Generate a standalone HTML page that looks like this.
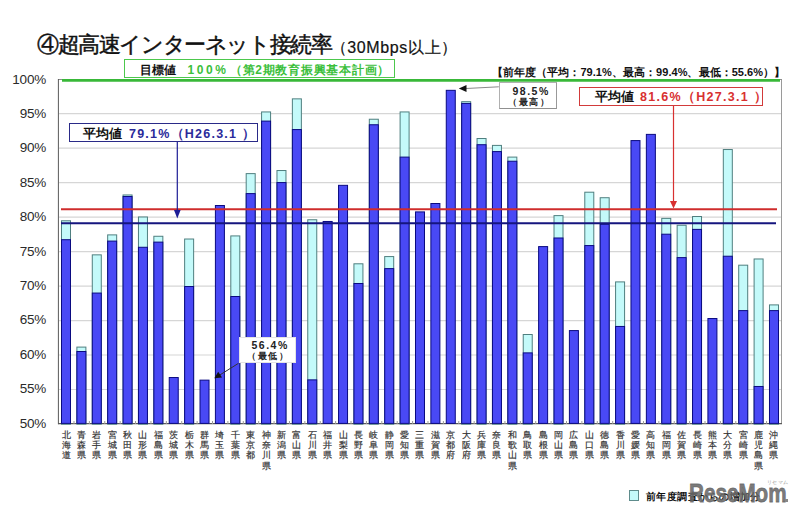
<!DOCTYPE html>
<html><head><meta charset="utf-8">
<style>
html,body{margin:0;padding:0;background:#fff;}
body{width:800px;height:516px;position:relative;overflow:hidden;font-family:"Liberation Sans",sans-serif;}
.t{position:absolute;white-space:nowrap;line-height:1;}
.yl{position:absolute;right:753.8px;font-size:13.5px;letter-spacing:-0.15px;color:#2a2a2a;line-height:16px;text-align:right;}
.lab{position:absolute;top:430px;width:12px;font-size:9px;line-height:10.2px;color:#2a2a2a;text-align:center;-webkit-text-stroke:0.2px #444;}
.box{position:absolute;box-sizing:border-box;background:#fff;}
svg{position:absolute;left:0;top:0;}
</style></head><body>
<svg width="800" height="516" viewBox="0 0 800 516">
<line x1="59" y1="389.50" x2="781" y2="389.50" stroke="#d6d6d6" stroke-width="1.2"/><line x1="59" y1="355.02" x2="781" y2="355.02" stroke="#d6d6d6" stroke-width="1.2"/><line x1="59" y1="320.55" x2="781" y2="320.55" stroke="#d6d6d6" stroke-width="1.2"/><line x1="59" y1="286.07" x2="781" y2="286.07" stroke="#d6d6d6" stroke-width="1.2"/><line x1="59" y1="251.60" x2="781" y2="251.60" stroke="#d6d6d6" stroke-width="1.2"/><line x1="59" y1="217.12" x2="781" y2="217.12" stroke="#d6d6d6" stroke-width="1.2"/><line x1="59" y1="182.65" x2="781" y2="182.65" stroke="#d6d6d6" stroke-width="1.2"/><line x1="59" y1="148.17" x2="781" y2="148.17" stroke="#d6d6d6" stroke-width="1.2"/><line x1="59" y1="113.69" x2="781" y2="113.69" stroke="#d6d6d6" stroke-width="1.2"/><line x1="58" y1="79.5" x2="782" y2="79.5" stroke="#8c8c8c" stroke-width="1"/><line x1="58.4" y1="79" x2="58.4" y2="424.2" stroke="#5a5a5a" stroke-width="1"/><line x1="781.5" y1="80" x2="781.5" y2="424" stroke="#9a9a9a" stroke-width="1"/><line x1="58" y1="423.6" x2="782" y2="423.6" stroke="#5a5a5a" stroke-width="1.2"/><rect x="61.50" y="220.78" width="9.00" height="203.42" fill="#c4fafa" stroke="#4f7f7f" stroke-width="1"/><rect x="61.50" y="239.71" width="9.00" height="183.69" fill="#4949f5" stroke="#0a0a80" stroke-width="1"/><rect x="76.89" y="347.10" width="9.00" height="77.10" fill="#c4fafa" stroke="#4f7f7f" stroke-width="1"/><rect x="76.89" y="351.50" width="9.00" height="71.90" fill="#4949f5" stroke="#0a0a80" stroke-width="1"/><rect x="92.28" y="254.85" width="9.00" height="169.35" fill="#c4fafa" stroke="#4f7f7f" stroke-width="1"/><rect x="92.28" y="293.06" width="9.00" height="130.34" fill="#4949f5" stroke="#0a0a80" stroke-width="1"/><rect x="107.67" y="234.89" width="9.00" height="189.31" fill="#c4fafa" stroke="#4f7f7f" stroke-width="1"/><rect x="107.67" y="241.09" width="9.00" height="182.31" fill="#4949f5" stroke="#0a0a80" stroke-width="1"/><rect x="123.06" y="194.96" width="9.00" height="229.24" fill="#c4fafa" stroke="#4f7f7f" stroke-width="1"/><rect x="123.06" y="196.48" width="9.00" height="226.92" fill="#4949f5" stroke="#0a0a80" stroke-width="1"/><rect x="138.45" y="216.99" width="9.00" height="207.21" fill="#c4fafa" stroke="#4f7f7f" stroke-width="1"/><rect x="138.45" y="247.28" width="9.00" height="176.12" fill="#4949f5" stroke="#0a0a80" stroke-width="1"/><rect x="153.85" y="236.27" width="9.00" height="187.93" fill="#c4fafa" stroke="#4f7f7f" stroke-width="1"/><rect x="153.85" y="242.12" width="9.00" height="181.28" fill="#4949f5" stroke="#0a0a80" stroke-width="1"/><rect x="169.24" y="377.53" width="9.00" height="45.87" fill="#4949f5" stroke="#0a0a80" stroke-width="1"/><rect x="184.63" y="239.02" width="9.00" height="185.18" fill="#c4fafa" stroke="#4f7f7f" stroke-width="1"/><rect x="184.63" y="286.52" width="9.00" height="136.88" fill="#4949f5" stroke="#0a0a80" stroke-width="1"/><rect x="200.02" y="380.14" width="9.00" height="43.26" fill="#4949f5" stroke="#0a0a80" stroke-width="1"/><rect x="215.41" y="205.50" width="9.00" height="217.90" fill="#4949f5" stroke="#0a0a80" stroke-width="1"/><rect x="230.80" y="235.92" width="9.00" height="188.28" fill="#c4fafa" stroke="#4f7f7f" stroke-width="1"/><rect x="230.80" y="296.50" width="9.00" height="126.90" fill="#4949f5" stroke="#0a0a80" stroke-width="1"/><rect x="246.19" y="173.62" width="9.00" height="250.58" fill="#c4fafa" stroke="#4f7f7f" stroke-width="1"/><rect x="246.19" y="193.59" width="9.00" height="229.81" fill="#4949f5" stroke="#0a0a80" stroke-width="1"/><rect x="261.58" y="111.94" width="9.00" height="312.26" fill="#c4fafa" stroke="#4f7f7f" stroke-width="1"/><rect x="261.58" y="121.10" width="9.00" height="302.30" fill="#4949f5" stroke="#0a0a80" stroke-width="1"/><rect x="276.97" y="170.52" width="9.00" height="253.68" fill="#c4fafa" stroke="#4f7f7f" stroke-width="1"/><rect x="276.97" y="182.57" width="9.00" height="240.83" fill="#4949f5" stroke="#0a0a80" stroke-width="1"/><rect x="292.37" y="98.86" width="9.00" height="325.34" fill="#c4fafa" stroke="#4f7f7f" stroke-width="1"/><rect x="292.37" y="129.56" width="9.00" height="293.84" fill="#4949f5" stroke="#0a0a80" stroke-width="1"/><rect x="307.76" y="219.75" width="9.00" height="204.45" fill="#c4fafa" stroke="#4f7f7f" stroke-width="1"/><rect x="307.76" y="379.87" width="9.00" height="43.53" fill="#4949f5" stroke="#0a0a80" stroke-width="1"/><rect x="323.15" y="221.47" width="9.00" height="201.93" fill="#4949f5" stroke="#0a0a80" stroke-width="1"/><rect x="338.54" y="185.33" width="9.00" height="238.07" fill="#4949f5" stroke="#0a0a80" stroke-width="1"/><rect x="353.93" y="263.80" width="9.00" height="160.40" fill="#c4fafa" stroke="#4f7f7f" stroke-width="1"/><rect x="353.93" y="283.49" width="9.00" height="139.91" fill="#4949f5" stroke="#0a0a80" stroke-width="1"/><rect x="369.32" y="119.24" width="9.00" height="304.96" fill="#c4fafa" stroke="#4f7f7f" stroke-width="1"/><rect x="369.32" y="124.75" width="9.00" height="298.65" fill="#4949f5" stroke="#0a0a80" stroke-width="1"/><rect x="384.71" y="256.57" width="9.00" height="167.63" fill="#c4fafa" stroke="#4f7f7f" stroke-width="1"/><rect x="384.71" y="268.62" width="9.00" height="154.78" fill="#4949f5" stroke="#0a0a80" stroke-width="1"/><rect x="400.10" y="111.94" width="9.00" height="312.26" fill="#c4fafa" stroke="#4f7f7f" stroke-width="1"/><rect x="400.10" y="157.10" width="9.00" height="266.30" fill="#4949f5" stroke="#0a0a80" stroke-width="1"/><rect x="415.49" y="211.90" width="9.00" height="211.50" fill="#4949f5" stroke="#0a0a80" stroke-width="1"/><rect x="430.88" y="203.50" width="9.00" height="219.90" fill="#4949f5" stroke="#0a0a80" stroke-width="1"/><rect x="446.27" y="90.33" width="9.00" height="333.07" fill="#4949f5" stroke="#0a0a80" stroke-width="1"/><rect x="461.67" y="101.68" width="9.00" height="322.52" fill="#c4fafa" stroke="#4f7f7f" stroke-width="1"/><rect x="461.67" y="103.41" width="9.00" height="319.99" fill="#4949f5" stroke="#0a0a80" stroke-width="1"/><rect x="477.06" y="138.51" width="9.00" height="285.69" fill="#c4fafa" stroke="#4f7f7f" stroke-width="1"/><rect x="477.06" y="144.71" width="9.00" height="278.69" fill="#4949f5" stroke="#0a0a80" stroke-width="1"/><rect x="492.45" y="145.40" width="9.00" height="278.80" fill="#c4fafa" stroke="#4f7f7f" stroke-width="1"/><rect x="492.45" y="151.59" width="9.00" height="271.81" fill="#4949f5" stroke="#0a0a80" stroke-width="1"/><rect x="507.84" y="157.10" width="9.00" height="267.10" fill="#c4fafa" stroke="#4f7f7f" stroke-width="1"/><rect x="507.84" y="161.23" width="9.00" height="262.17" fill="#4949f5" stroke="#0a0a80" stroke-width="1"/><rect x="523.23" y="334.50" width="9.00" height="89.70" fill="#c4fafa" stroke="#4f7f7f" stroke-width="1"/><rect x="523.23" y="352.88" width="9.00" height="70.52" fill="#4949f5" stroke="#0a0a80" stroke-width="1"/><rect x="538.62" y="246.59" width="9.00" height="176.81" fill="#4949f5" stroke="#0a0a80" stroke-width="1"/><rect x="554.01" y="215.61" width="9.00" height="208.59" fill="#c4fafa" stroke="#4f7f7f" stroke-width="1"/><rect x="554.01" y="237.99" width="9.00" height="185.41" fill="#4949f5" stroke="#0a0a80" stroke-width="1"/><rect x="569.40" y="330.58" width="9.00" height="92.82" fill="#4949f5" stroke="#0a0a80" stroke-width="1"/><rect x="584.79" y="192.21" width="9.00" height="231.99" fill="#c4fafa" stroke="#4f7f7f" stroke-width="1"/><rect x="584.79" y="245.56" width="9.00" height="177.84" fill="#4949f5" stroke="#0a0a80" stroke-width="1"/><rect x="600.18" y="197.72" width="9.00" height="226.48" fill="#c4fafa" stroke="#4f7f7f" stroke-width="1"/><rect x="600.18" y="224.29" width="9.00" height="199.11" fill="#4949f5" stroke="#0a0a80" stroke-width="1"/><rect x="615.58" y="281.91" width="9.00" height="142.29" fill="#c4fafa" stroke="#4f7f7f" stroke-width="1"/><rect x="615.58" y="326.45" width="9.00" height="96.95" fill="#4949f5" stroke="#0a0a80" stroke-width="1"/><rect x="630.97" y="140.58" width="9.00" height="282.82" fill="#4949f5" stroke="#0a0a80" stroke-width="1"/><rect x="646.36" y="134.38" width="9.00" height="289.02" fill="#4949f5" stroke="#0a0a80" stroke-width="1"/><rect x="661.75" y="218.37" width="9.00" height="205.83" fill="#c4fafa" stroke="#4f7f7f" stroke-width="1"/><rect x="661.75" y="234.20" width="9.00" height="189.20" fill="#4949f5" stroke="#0a0a80" stroke-width="1"/><rect x="677.14" y="225.25" width="9.00" height="198.95" fill="#c4fafa" stroke="#4f7f7f" stroke-width="1"/><rect x="677.14" y="257.61" width="9.00" height="165.79" fill="#4949f5" stroke="#0a0a80" stroke-width="1"/><rect x="692.53" y="216.51" width="9.00" height="207.69" fill="#c4fafa" stroke="#4f7f7f" stroke-width="1"/><rect x="692.53" y="229.38" width="9.00" height="194.02" fill="#4949f5" stroke="#0a0a80" stroke-width="1"/><rect x="707.92" y="318.53" width="9.00" height="104.87" fill="#4949f5" stroke="#0a0a80" stroke-width="1"/><rect x="723.31" y="149.53" width="9.00" height="274.67" fill="#c4fafa" stroke="#4f7f7f" stroke-width="1"/><rect x="723.31" y="256.23" width="9.00" height="167.17" fill="#4949f5" stroke="#0a0a80" stroke-width="1"/><rect x="738.70" y="265.18" width="9.00" height="159.02" fill="#c4fafa" stroke="#4f7f7f" stroke-width="1"/><rect x="738.70" y="310.61" width="9.00" height="112.79" fill="#4949f5" stroke="#0a0a80" stroke-width="1"/><rect x="754.10" y="258.98" width="9.00" height="165.22" fill="#c4fafa" stroke="#4f7f7f" stroke-width="1"/><rect x="754.10" y="386.48" width="9.00" height="36.92" fill="#4949f5" stroke="#0a0a80" stroke-width="1"/><rect x="769.49" y="304.90" width="9.00" height="119.30" fill="#c4fafa" stroke="#4f7f7f" stroke-width="1"/><rect x="769.49" y="310.61" width="9.00" height="112.79" fill="#4949f5" stroke="#0a0a80" stroke-width="1"/><line x1="73.99" y1="421" x2="73.99" y2="424" stroke="#9a9a9a" stroke-width="1"/><line x1="89.38" y1="421" x2="89.38" y2="424" stroke="#9a9a9a" stroke-width="1"/><line x1="104.77" y1="421" x2="104.77" y2="424" stroke="#9a9a9a" stroke-width="1"/><line x1="120.16" y1="421" x2="120.16" y2="424" stroke="#9a9a9a" stroke-width="1"/><line x1="135.56" y1="421" x2="135.56" y2="424" stroke="#9a9a9a" stroke-width="1"/><line x1="150.95" y1="421" x2="150.95" y2="424" stroke="#9a9a9a" stroke-width="1"/><line x1="166.34" y1="421" x2="166.34" y2="424" stroke="#9a9a9a" stroke-width="1"/><line x1="181.73" y1="421" x2="181.73" y2="424" stroke="#9a9a9a" stroke-width="1"/><line x1="197.12" y1="421" x2="197.12" y2="424" stroke="#9a9a9a" stroke-width="1"/><line x1="212.51" y1="421" x2="212.51" y2="424" stroke="#9a9a9a" stroke-width="1"/><line x1="227.90" y1="421" x2="227.90" y2="424" stroke="#9a9a9a" stroke-width="1"/><line x1="243.29" y1="421" x2="243.29" y2="424" stroke="#9a9a9a" stroke-width="1"/><line x1="258.68" y1="421" x2="258.68" y2="424" stroke="#9a9a9a" stroke-width="1"/><line x1="274.07" y1="421" x2="274.07" y2="424" stroke="#9a9a9a" stroke-width="1"/><line x1="289.47" y1="421" x2="289.47" y2="424" stroke="#9a9a9a" stroke-width="1"/><line x1="304.86" y1="421" x2="304.86" y2="424" stroke="#9a9a9a" stroke-width="1"/><line x1="320.25" y1="421" x2="320.25" y2="424" stroke="#9a9a9a" stroke-width="1"/><line x1="335.64" y1="421" x2="335.64" y2="424" stroke="#9a9a9a" stroke-width="1"/><line x1="351.03" y1="421" x2="351.03" y2="424" stroke="#9a9a9a" stroke-width="1"/><line x1="366.42" y1="421" x2="366.42" y2="424" stroke="#9a9a9a" stroke-width="1"/><line x1="381.81" y1="421" x2="381.81" y2="424" stroke="#9a9a9a" stroke-width="1"/><line x1="397.20" y1="421" x2="397.20" y2="424" stroke="#9a9a9a" stroke-width="1"/><line x1="412.59" y1="421" x2="412.59" y2="424" stroke="#9a9a9a" stroke-width="1"/><line x1="427.98" y1="421" x2="427.98" y2="424" stroke="#9a9a9a" stroke-width="1"/><line x1="443.38" y1="421" x2="443.38" y2="424" stroke="#9a9a9a" stroke-width="1"/><line x1="458.77" y1="421" x2="458.77" y2="424" stroke="#9a9a9a" stroke-width="1"/><line x1="474.16" y1="421" x2="474.16" y2="424" stroke="#9a9a9a" stroke-width="1"/><line x1="489.55" y1="421" x2="489.55" y2="424" stroke="#9a9a9a" stroke-width="1"/><line x1="504.94" y1="421" x2="504.94" y2="424" stroke="#9a9a9a" stroke-width="1"/><line x1="520.33" y1="421" x2="520.33" y2="424" stroke="#9a9a9a" stroke-width="1"/><line x1="535.72" y1="421" x2="535.72" y2="424" stroke="#9a9a9a" stroke-width="1"/><line x1="551.11" y1="421" x2="551.11" y2="424" stroke="#9a9a9a" stroke-width="1"/><line x1="566.50" y1="421" x2="566.50" y2="424" stroke="#9a9a9a" stroke-width="1"/><line x1="581.89" y1="421" x2="581.89" y2="424" stroke="#9a9a9a" stroke-width="1"/><line x1="597.28" y1="421" x2="597.28" y2="424" stroke="#9a9a9a" stroke-width="1"/><line x1="612.68" y1="421" x2="612.68" y2="424" stroke="#9a9a9a" stroke-width="1"/><line x1="628.07" y1="421" x2="628.07" y2="424" stroke="#9a9a9a" stroke-width="1"/><line x1="643.46" y1="421" x2="643.46" y2="424" stroke="#9a9a9a" stroke-width="1"/><line x1="658.85" y1="421" x2="658.85" y2="424" stroke="#9a9a9a" stroke-width="1"/><line x1="674.24" y1="421" x2="674.24" y2="424" stroke="#9a9a9a" stroke-width="1"/><line x1="689.63" y1="421" x2="689.63" y2="424" stroke="#9a9a9a" stroke-width="1"/><line x1="705.02" y1="421" x2="705.02" y2="424" stroke="#9a9a9a" stroke-width="1"/><line x1="720.41" y1="421" x2="720.41" y2="424" stroke="#9a9a9a" stroke-width="1"/><line x1="735.80" y1="421" x2="735.80" y2="424" stroke="#9a9a9a" stroke-width="1"/><line x1="751.20" y1="421" x2="751.20" y2="424" stroke="#9a9a9a" stroke-width="1"/><line x1="766.59" y1="421" x2="766.59" y2="424" stroke="#9a9a9a" stroke-width="1"/><line x1="62" y1="80.4" x2="780" y2="80.4" stroke="#38b838" stroke-width="2.8"/><line x1="61" y1="209.25" x2="777" y2="209.25" stroke="#cf2c2c" stroke-width="2.2"/><line x1="61" y1="223.25" x2="776" y2="223.25" stroke="#15157e" stroke-width="2.2"/><line x1="177.3" y1="142" x2="177.3" y2="212" stroke="#1c1c96" stroke-width="1.2"/><path d="M174,210 L180.6,210 L177.3,218.5 Z" fill="#1c1c96"/><line x1="673.5" y1="105.5" x2="673.5" y2="202" stroke="#d83030" stroke-width="1.2"/><path d="M670,201 L677,201 L673.5,208.5 Z" fill="#d83030"/><polyline points="498.8,86.8 466,88.5" fill="none" stroke="#8a8a8a" stroke-width="1"/><path d="M458.8,88.5 L466.5,85 L466.5,92 Z" fill="#111"/><line x1="238.5" y1="363.3" x2="219" y2="375.5" stroke="#333" stroke-width="1"/><path d="M214.3,378.3 L218.2,371.8 L222,377.6 Z" fill="#111"/>
</svg>
<div class="yl" style="top:71.50px">100%</div><div class="yl" style="top:105.92px">95%</div><div class="yl" style="top:140.34px">90%</div><div class="yl" style="top:174.76px">85%</div><div class="yl" style="top:209.18px">80%</div><div class="yl" style="top:243.60px">75%</div><div class="yl" style="top:278.02px">70%</div><div class="yl" style="top:312.44px">65%</div><div class="yl" style="top:346.86px">60%</div><div class="yl" style="top:381.28px">55%</div><div class="yl" style="top:415.70px">50%</div>
<div class="lab" style="left:60.00px"><div>北</div><div>海</div><div>道</div></div><div class="lab" style="left:75.39px"><div>青</div><div>森</div><div>県</div></div><div class="lab" style="left:90.78px"><div>岩</div><div>手</div><div>県</div></div><div class="lab" style="left:106.17px"><div>宮</div><div>城</div><div>県</div></div><div class="lab" style="left:121.56px"><div>秋</div><div>田</div><div>県</div></div><div class="lab" style="left:136.95px"><div>山</div><div>形</div><div>県</div></div><div class="lab" style="left:152.35px"><div>福</div><div>島</div><div>県</div></div><div class="lab" style="left:167.74px"><div>茨</div><div>城</div><div>県</div></div><div class="lab" style="left:183.13px"><div>栃</div><div>木</div><div>県</div></div><div class="lab" style="left:198.52px"><div>群</div><div>馬</div><div>県</div></div><div class="lab" style="left:213.91px"><div>埼</div><div>玉</div><div>県</div></div><div class="lab" style="left:229.30px"><div>千</div><div>葉</div><div>県</div></div><div class="lab" style="left:244.69px"><div>東</div><div>京</div><div>都</div></div><div class="lab" style="left:260.08px"><div>神</div><div>奈</div><div>川</div><div>県</div></div><div class="lab" style="left:275.47px"><div>新</div><div>潟</div><div>県</div></div><div class="lab" style="left:290.87px"><div>富</div><div>山</div><div>県</div></div><div class="lab" style="left:306.26px"><div>石</div><div>川</div><div>県</div></div><div class="lab" style="left:321.65px"><div>福</div><div>井</div><div>県</div></div><div class="lab" style="left:337.04px"><div>山</div><div>梨</div><div>県</div></div><div class="lab" style="left:352.43px"><div>長</div><div>野</div><div>県</div></div><div class="lab" style="left:367.82px"><div>岐</div><div>阜</div><div>県</div></div><div class="lab" style="left:383.21px"><div>静</div><div>岡</div><div>県</div></div><div class="lab" style="left:398.60px"><div>愛</div><div>知</div><div>県</div></div><div class="lab" style="left:413.99px"><div>三</div><div>重</div><div>県</div></div><div class="lab" style="left:429.38px"><div>滋</div><div>賀</div><div>県</div></div><div class="lab" style="left:444.77px"><div>京</div><div>都</div><div>府</div></div><div class="lab" style="left:460.17px"><div>大</div><div>阪</div><div>府</div></div><div class="lab" style="left:475.56px"><div>兵</div><div>庫</div><div>県</div></div><div class="lab" style="left:490.95px"><div>奈</div><div>良</div><div>県</div></div><div class="lab" style="left:506.34px"><div>和</div><div>歌</div><div>山</div><div>県</div></div><div class="lab" style="left:521.73px"><div>鳥</div><div>取</div><div>県</div></div><div class="lab" style="left:537.12px"><div>島</div><div>根</div><div>県</div></div><div class="lab" style="left:552.51px"><div>岡</div><div>山</div><div>県</div></div><div class="lab" style="left:567.90px"><div>広</div><div>島</div><div>県</div></div><div class="lab" style="left:583.29px"><div>山</div><div>口</div><div>県</div></div><div class="lab" style="left:598.68px"><div>徳</div><div>島</div><div>県</div></div><div class="lab" style="left:614.08px"><div>香</div><div>川</div><div>県</div></div><div class="lab" style="left:629.47px"><div>愛</div><div>媛</div><div>県</div></div><div class="lab" style="left:644.86px"><div>高</div><div>知</div><div>県</div></div><div class="lab" style="left:660.25px"><div>福</div><div>岡</div><div>県</div></div><div class="lab" style="left:675.64px"><div>佐</div><div>賀</div><div>県</div></div><div class="lab" style="left:691.03px"><div>長</div><div>崎</div><div>県</div></div><div class="lab" style="left:706.42px"><div>熊</div><div>本</div><div>県</div></div><div class="lab" style="left:721.81px"><div>大</div><div>分</div><div>県</div></div><div class="lab" style="left:737.20px"><div>宮</div><div>崎</div><div>県</div></div><div class="lab" style="left:752.60px"><div>鹿</div><div>児</div><div>島</div><div>県</div></div><div class="lab" style="left:767.99px"><div>沖</div><div>縄</div><div>県</div></div>
<div class="box" style="left:124px;top:59px;width:271px;height:19px;border:1.5px solid #4cc84c;"></div>
<div class="box" style="left:68.5px;top:123px;width:189px;height:19px;border:1.6px solid #2a2a88;"></div>
<div class="box" style="left:578.5px;top:87px;width:184px;height:19px;border:1.5px solid #d23a3a;"></div>
<div class="box" style="left:498.7px;top:82.4px;width:58px;height:26.5px;border:1px solid #b0b0b0;border-bottom-color:#909090;border-right-color:#999;"></div>
<div class="box" style="left:238.7px;top:336.5px;width:57.5px;height:26.5px;border:1px solid #e4e4e4;"></div>
<div class="box" style="left:628.5px;top:489.5px;width:10.5px;height:11px;background:#c4fafa;border:1px solid #5f8c8c;"></div>
<div class="t" id="title" style="left:37px;top:33.5px;font-size:22px;letter-spacing:-1.4px;color:#111;-webkit-text-stroke:0.45px #111;">④超高速インターネット接続率</div><div class="t" id="tparen" style="left:330.5px;top:39.5px;font-size:16px;letter-spacing:0.65px;color:#111;-webkit-text-stroke:0.2px #111;">（30Mbps以上）</div><div class="t" id="g1" style="left:140px;top:63.5px;font-size:12.3px;font-weight:bold;color:#111;">目標値</div><div class="t" id="g2" style="left:187.5px;top:63.5px;font-size:12px;font-weight:bold;color:#3cbf3c;letter-spacing:2.6px;">100%</div><div class="t" id="g3" style="left:229.8px;top:63.5px;font-size:12px;font-weight:bold;color:#3cbf3c;letter-spacing:0.73px;">（第2期教育振興基本計画）</div><div class="t" id="prev" style="left:492px;top:67px;font-size:11px;font-weight:bold;color:#111;letter-spacing:0.05px;">【前年度（平均：79.1%、最高：99.4%、最低：55.6%）】</div><div class="t" id="b1" style="left:82.5px;top:128px;font-size:12.5px;font-weight:bold;color:#111;">平均値</div><div class="t" id="b2" style="left:129px;top:127.5px;font-size:12.5px;font-weight:bold;color:#2a2a9a;letter-spacing:1.23px;">79.1%（H26.3.1 ）</div><div class="t" id="r1" style="left:594.5px;top:91px;font-size:12.5px;font-weight:bold;color:#111;">平均値</div><div class="t" id="r2" style="left:640px;top:90.5px;font-size:12.5px;font-weight:bold;color:#d83030;letter-spacing:1.3px;">81.6%（H27.3.1 ）</div><div class="t" id="m1" style="left:512.5px;top:85.5px;font-size:10.5px;font-weight:bold;color:#222;letter-spacing:1.5px;">98.5%</div><div class="t" id="m2" style="left:508px;top:98px;font-size:9px;font-weight:bold;color:#222;letter-spacing:1.6px;">（最高）</div><div class="t" id="n1" style="left:251.5px;top:339.5px;font-size:10.5px;font-weight:bold;color:#222;letter-spacing:1.5px;">56.4%</div><div class="t" id="n2" style="left:247px;top:351.5px;font-size:9px;font-weight:bold;color:#222;letter-spacing:1.6px;">（最低）</div><div class="t" id="leg" style="left:646px;top:492px;font-size:10.3px;font-weight:bold;color:#111;letter-spacing:0.45px;">前年度調査からの増加分</div><div class="t" id="wm" style="left:689px;top:481px;font-size:25.5px;font-weight:bold;color:rgba(105,105,105,0.88);transform:scaleX(0.81);transform-origin:0 0;-webkit-text-stroke:0.8px rgba(105,105,105,0.88);">ReseMom</div>
<div class="t" style="left:767px;top:481px;font-size:4.5px;color:#999;letter-spacing:0.3px">リセマム</div>
<div class="extra" style="position:absolute;left:785px;top:499px;width:2.5px;height:2.5px;background:#888;"></div>
</body></html>
